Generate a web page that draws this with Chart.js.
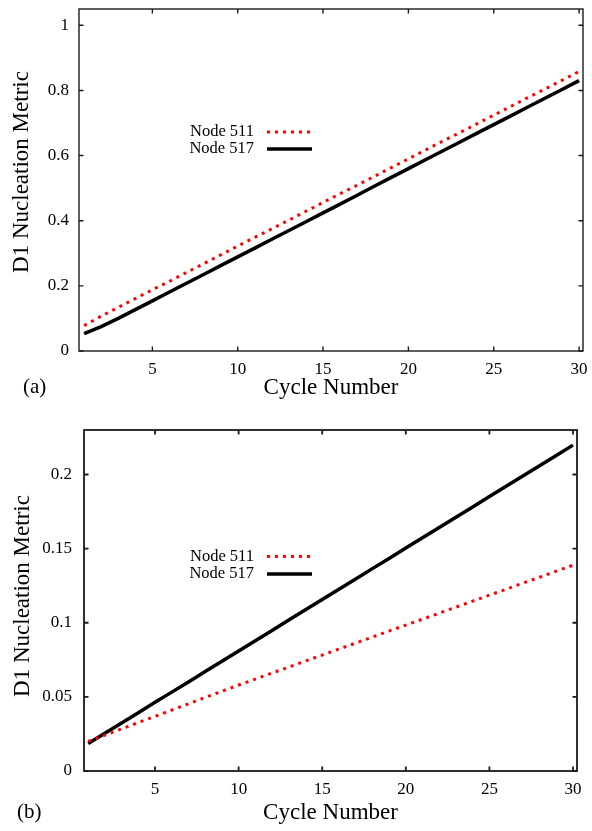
<!DOCTYPE html>
<html>
<head>
<meta charset="utf-8">
<script src="https://cdn.jsdelivr.net/npm/chart.js@4.4.1/dist/chart.umd.min.js"></script>
<style>
    html, body { margin: 0; padding: 0; background: #fff; }
    body { width: 592px; height: 831px; position: relative; overflow: hidden; }
    canvas { position: absolute; left: 0; }
    #chartA { top: 0; }
    #chartB { top: 410px; }
</style>
</head>
<body>
<canvas id="chartA" width="592" height="410"></canvas>
<canvas id="chartB" width="592" height="421"></canvas>
<script>
const seriesNames = ["Node 511", "Node 517"];
const cycles = [1, 2, 3, 4, 5, 6, 7, 8, 9, 10, 11, 12, 13, 14, 15, 16, 17, 18, 19, 20, 21, 22, 23, 24, 25, 26, 27, 28, 29, 30];

// panel (a)
const node511A = [0.078, 0.107, 0.134, 0.161, 0.188, 0.214, 0.241, 0.268, 0.295, 0.322,
    0.349, 0.375, 0.402, 0.429, 0.456, 0.483, 0.509, 0.536, 0.563, 0.590,
    0.617, 0.644, 0.670, 0.697, 0.724, 0.751, 0.778, 0.804, 0.831, 0.858];
const node517A = [0.053, 0.075, 0.100, 0.127, 0.154, 0.181, 0.208, 0.235, 0.262, 0.289,
    0.316, 0.343, 0.370, 0.397, 0.424, 0.451, 0.478, 0.506, 0.533, 0.560,
    0.587, 0.614, 0.641, 0.668, 0.695, 0.722, 0.749, 0.776, 0.803, 0.830];

// panel (b)
const node511B = [0.0200, 0.0242, 0.0284, 0.0327, 0.0369, 0.0411, 0.0453, 0.0496, 0.0538, 0.0580,
    0.0620, 0.0661, 0.0701, 0.0742, 0.0782, 0.0822, 0.0863, 0.0903, 0.0944, 0.0984,
    0.1024, 0.1065, 0.1105, 0.1146, 0.1186, 0.1226, 0.1267, 0.1307, 0.1348, 0.1388];
const node517B = [0.0185, 0.0254, 0.0324, 0.0393, 0.0463, 0.0532, 0.0601, 0.0671, 0.0740, 0.0810,
    0.0879, 0.0948, 0.1018, 0.1087, 0.1157, 0.1226, 0.1295, 0.1365, 0.1434, 0.1504,
    0.1573, 0.1642, 0.1712, 0.1781, 0.1851, 0.1920, 0.1989, 0.2059, 0.2128, 0.2198];

const xTicks = [5, 10, 15, 20, 25, 30];
const yTicksA = [0, 0.2, 0.4, 0.6, 0.8, 1];
const yTicksB = [0, 0.05, 0.1, 0.15, 0.2];

const xTitle = "Cycle Number";
const yTitle = "D1 Nucleation Metric";

const serif = "'Liberation Serif', 'Times New Roman', serif";
Chart.defaults.font.family = serif;
Chart.defaults.color = "#000";

// box round the plot with inward ticks on all four sides
const frameAndTicks = {
    id: "frameAndTicks",
    afterDatasetsDraw(chart, args, opts) {
        const { ctx, chartArea: a } = chart;
        const x = chart.scales.x;
        const y = chart.scales.y;
        const len = 4.5;
        ctx.save();
        ctx.strokeStyle = "#1a1a1a";
        ctx.lineWidth = opts.lineWidth;
        ctx.beginPath();
        x.ticks.forEach((t) => {
            const px = x.getPixelForValue(t.value);
            ctx.moveTo(px, a.bottom);
            ctx.lineTo(px, a.bottom - len);
            ctx.moveTo(px, a.top);
            ctx.lineTo(px, a.top + len);
        });
        y.ticks.forEach((t) => {
            const py = y.getPixelForValue(t.value);
            ctx.moveTo(a.left, py);
            ctx.lineTo(a.left + len, py);
            ctx.moveTo(a.right, py);
            ctx.lineTo(a.right - len, py);
        });
        ctx.stroke();
        ctx.strokeRect(a.left, a.top, a.right - a.left, a.bottom - a.top);
        ctx.restore();
    }
};

// gnuplot style key, y title and panel tag
const panelText = {
    id: "panelText",
    afterDraw(chart, args, opts) {
        const ctx = chart.ctx;
        ctx.save();
        ctx.fillStyle = "#000";

        ctx.font = "16.5px " + serif;
        ctx.textAlign = "right";
        ctx.textBaseline = "middle";
        chart.data.datasets.forEach((ds, i) => {
            const rowY = opts.keyY[i];
            ctx.fillText(ds.label, opts.keyX, rowY);
            ctx.save();
            ctx.strokeStyle = ds.borderColor;
            ctx.lineWidth = ds.borderWidth;
            ctx.setLineDash(ds.borderDash || []);
            ctx.beginPath();
            ctx.moveTo(opts.keyX + 13, rowY);
            ctx.lineTo(opts.keyX + 58, rowY);
            ctx.stroke();
            ctx.restore();
        });

        ctx.font = "23px " + serif;
        ctx.textAlign = "center";
        ctx.save();
        ctx.translate(opts.yTitleX, opts.yTitleY);
        ctx.rotate(-Math.PI / 2);
        ctx.fillText(yTitle, 0, 0);
        ctx.restore();

        ctx.font = "21px " + serif;
        ctx.textAlign = "left";
        ctx.fillText(opts.tag, opts.tagX, opts.tagY);
        ctx.restore();
    }
};

function buildChart(canvasId, red, black, yTicks, p) {
    return new Chart(document.getElementById(canvasId), {
        type: "line",
        data: {
            datasets: [{
                label: seriesNames[0],
                data: cycles.map((c, i) => ({ x: c, y: red[i] })),
                borderColor: "#ff0000",
                borderWidth: 3,
                borderDash: [3, 5],
                pointRadius: 0,
                tension: 0
            }, {
                label: seriesNames[1],
                data: cycles.map((c, i) => ({ x: c, y: black[i] })),
                borderColor: "#000",
                borderWidth: 3.5,
                pointRadius: 0,
                tension: 0
            }]
        },
        options: {
            responsive: false,
            animation: false,
            layout: {
                padding: { top: p.top, right: p.right, left: 0, bottom: 0 }
            },
            plugins: {
                legend: { display: false },
                tooltip: { enabled: false },
                frameAndTicks: { lineWidth: p.frame },
                panelText: p.text
            },
            scales: {
                x: {
                    type: "linear",
                    min: p.xMin,
                    max: p.xMax,
                    afterFit: (scale) => {
                        scale.height = p.xAxisHeight;
                        scale.paddingLeft = 0;
                        scale.paddingRight = 0;
                    },
                    afterBuildTicks: (scale) => { scale.ticks = xTicks.map((v) => ({ value: v })); },
                    grid: { display: false, drawTicks: false },
                    border: { display: false },
                    ticks: {
                        padding: p.xPad,
                        font: { size: 17 },
                        maxRotation: 0,
                        callback: (v) => String(v)
                    },
                    title: {
                        display: true,
                        text: xTitle,
                        font: { size: 23 },
                        padding: { top: 0, bottom: p.xTitlePad }
                    }
                },
                y: {
                    type: "linear",
                    min: p.yMin,
                    max: p.yMax,
                    afterFit: (scale) => {
                        scale.width = p.yAxisWidth;
                        scale.paddingTop = 0;
                        scale.paddingBottom = 0;
                    },
                    afterBuildTicks: (scale) => { scale.ticks = yTicks.map((v) => ({ value: v })); },
                    grid: { display: false, drawTicks: false },
                    border: { display: false },
                    ticks: {
                        padding: p.yPad,
                        font: { size: 17 },
                        callback: (v) => String(v)
                    }
                }
            }
        },
        plugins: [frameAndTicks, panelText]
    });
}

buildChart("chartA", node511A, node517A, yTicksA, {
    top: 9, right: 9, frame: 1.4,
    xMin: 0.7, xMax: 30.23, yMin: 0, yMax: 1.05,
    xAxisHeight: 59, yAxisWidth: 79,
    xPad: 8, yPad: 10, xTitlePad: 8,
    text: { keyX: 254, keyY: [132, 149], yTitleX: 22, yTitleY: 172, tag: "(a)", tagX: 23, tagY: 387 }
});

buildChart("chartB", node511B, node517B, yTicksB, {
    top: 20, right: 15, frame: 1.8,
    xMin: 0.75, xMax: 30.24, yMin: 0, yMax: 0.23,
    xAxisHeight: 60, yAxisWidth: 84,
    xPad: 8, yPad: 12, xTitlePad: 4,
    text: { keyX: 254, keyY: [146.5, 164], yTitleX: 23, yTitleY: 186, tag: "(b)", tagX: 17, tagY: 402 }
});
</script>
</body>
</html>
